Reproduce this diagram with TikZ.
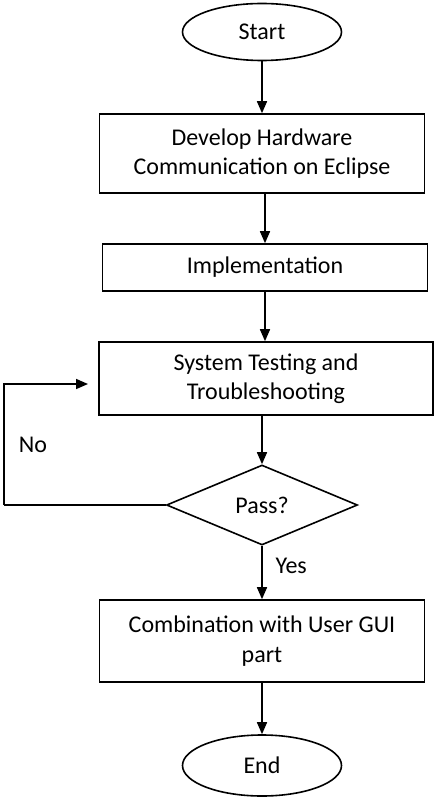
\documentclass[tikz,border=0pt]{standalone}
\usepackage{fontspec}
\setmainfont{Carlito}
\usetikzlibrary{shapes.geometric,arrows.meta}
\tikzset{
  txt/.style={font=\fontsize{24}{29.5}\selectfont},
  flowbox/.style={draw,line width=1.6pt,rectangle,inner sep=0pt,align=center,txt},
  term/.style={draw,line width=1.6pt,ellipse,inner sep=0pt,minimum width=159pt,minimum height=57pt,txt},
  arr/.style={line width=1.6pt,-{Triangle[length=12pt,width=10pt]}}
}
\begin{document}
\begin{tikzpicture}[x=1pt,y=-1pt]
\useasboundingbox (0,0) rectangle (435,805);
\node[term] (start) at (262,32) {Start};
\node[flowbox,minimum width=325pt,minimum height=79pt] (dev) at (262,153.5) {Develop Hardware\\Communication on Eclipse};
\node[flowbox,minimum width=325pt,minimum height=47pt] (impl) at (265,267.5) {Implementation};
\node[flowbox,minimum width=334pt,minimum height=73pt] (test) at (266,378.5) {System Testing and\\Troubleshooting};
\node[draw,line width=1.6pt,diamond,aspect=2.39,minimum width=191pt,minimum height=80pt,inner sep=0pt,txt] (pass) at (262,505) {Pass?};
\node[flowbox,minimum width=325pt,minimum height=82pt] (gui) at (262,641) {Combination with User GUI\\part};
\node[term,minimum height=61pt] (end) at (262,765.5) {End};
%\draw (pass.west) -- (4,505);
\coordinate (c1) at (4,505);
\coordinate (c2) at (88,384);
\draw[arr] (start) -- (dev);
\draw[arr] (dev.south -| impl.north) -- (impl.north);
\draw[arr] (impl.south -| 265,0) -- (test.north -| 265,0);
\draw[arr] (test.south -| pass.north) -- (pass.north);
\draw[arr] (pass.south) -- (gui.north);
\node[txt,anchor=west] (yes) at (272,566) {Yes};
\draw[arr] (gui) -- (end);
\draw[line width=1.6pt] (pass.west) -- (c1);
\draw[arr] (c1) |- (c2);
\node[txt] (no) at (33,445) {No};
\end{tikzpicture}
\end{document}
